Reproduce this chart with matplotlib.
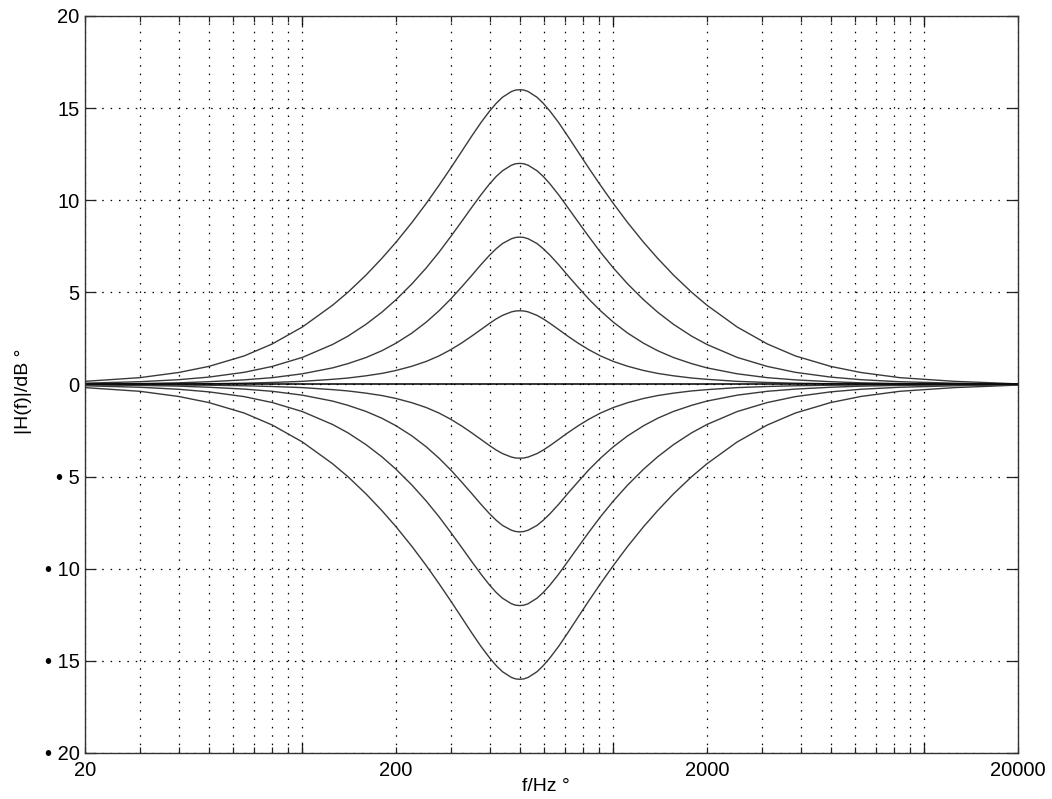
import numpy as np
import matplotlib
matplotlib.use("Agg")
import matplotlib.pyplot as plt
from matplotlib.ticker import FixedLocator, NullFormatter

plt.rcParams['font.family'] = ['Liberation Sans', 'DejaVu Sans']

# frequency points (Hz) read along the x axis
freq = [20, 30, 40, 50, 65, 80, 100, 125, 140, 160, 180, 200, 225, 250, 275, 300, 325,
        350, 375, 400, 420, 440, 470, 485, 500,
        515, 532, 568, 595, 625, 667, 714, 769, 833, 909, 1000, 1111, 1250, 1389,
        1562, 1786, 2000, 2500, 3125, 3846, 5000, 6250, 8333, 12500, 16000, 20000]

# boost curves (dB)
boost16 = [0.17, 0.37, 0.65, 0.98, 1.55, 2.20, 3.12, 4.30, 5.00, 5.93, 6.84, 7.72, 8.79,
           9.82, 10.81, 11.75, 12.64, 13.47, 14.21, 14.84, 15.26, 15.59, 15.90, 15.98, 16.00,
           15.98, 15.90, 15.59, 15.26, 14.84, 14.21, 13.47, 12.64, 11.75, 10.81, 9.82, 8.79,
           7.72, 6.84, 5.93, 5.00, 4.30, 3.12, 2.20, 1.55, 0.98, 0.65, 0.37, 0.17, 0.10, 0.03]
boost12 = [0.07, 0.15, 0.26, 0.40, 0.66, 0.98, 1.47, 2.17, 2.62, 3.26, 3.92, 4.60, 5.46,
           6.32, 7.18, 8.03, 8.84, 9.60, 10.29, 10.89, 11.29, 11.60, 11.90, 11.98, 12.00,
           11.98, 11.90, 11.60, 11.29, 10.89, 10.29, 9.60, 8.84, 8.03, 7.18, 6.32, 5.46,
           4.60, 3.92, 3.26, 2.62, 2.17, 1.47, 0.98, 0.66, 0.40, 0.26, 0.15, 0.07, 0.04, 0.01]
boost8 = [0.02, 0.05, 0.09, 0.15, 0.25, 0.37, 0.58, 0.90, 1.13, 1.46, 1.83, 2.24, 2.79,
          3.38, 4.00, 4.64, 5.29, 5.91, 6.50, 7.02, 7.37, 7.65, 7.91, 7.98, 8.00,
          7.98, 7.91, 7.65, 7.37, 7.02, 6.50, 5.91, 5.29, 4.64, 4.00, 3.38, 2.79,
          2.24, 1.83, 1.46, 1.13, 0.90, 0.58, 0.37, 0.25, 0.15, 0.09, 0.05, 0.02, 0.01, 0.00]
boost4 = [0.01, 0.02, 0.03, 0.04, 0.07, 0.11, 0.17, 0.28, 0.35, 0.47, 0.60, 0.76, 0.99,
          1.25, 1.55, 1.89, 2.25, 2.62, 2.98, 3.32, 3.56, 3.75, 3.94, 3.99, 4.00,
          3.99, 3.94, 3.75, 3.56, 3.32, 2.98, 2.62, 2.25, 1.89, 1.55, 1.25, 0.99,
          0.76, 0.60, 0.47, 0.35, 0.28, 0.17, 0.11, 0.07, 0.04, 0.03, 0.02, 0.01, 0.00, 0.00]

# cut curves (dB), mirror images of the boosts
cut4 = [-0.01, -0.02, -0.03, -0.04, -0.07, -0.11, -0.17, -0.28, -0.35, -0.47, -0.60, -0.76, -0.99,
        -1.25, -1.55, -1.89, -2.25, -2.62, -2.98, -3.32, -3.56, -3.75, -3.94, -3.99, -4.00,
        -3.99, -3.94, -3.75, -3.56, -3.32, -2.98, -2.62, -2.25, -1.89, -1.55, -1.25, -0.99,
        -0.76, -0.60, -0.47, -0.35, -0.28, -0.17, -0.11, -0.07, -0.04, -0.03, -0.02, -0.01, 0.00, 0.00]
cut8 = [-0.02, -0.05, -0.09, -0.15, -0.25, -0.37, -0.58, -0.90, -1.13, -1.46, -1.83, -2.24, -2.79,
        -3.38, -4.00, -4.64, -5.29, -5.91, -6.50, -7.02, -7.37, -7.65, -7.91, -7.98, -8.00,
        -7.98, -7.91, -7.65, -7.37, -7.02, -6.50, -5.91, -5.29, -4.64, -4.00, -3.38, -2.79,
        -2.24, -1.83, -1.46, -1.13, -0.90, -0.58, -0.37, -0.25, -0.15, -0.09, -0.05, -0.02, -0.01, 0.00]
cut12 = [-0.07, -0.15, -0.26, -0.40, -0.66, -0.98, -1.47, -2.17, -2.62, -3.26, -3.92, -4.60, -5.46,
         -6.32, -7.18, -8.03, -8.84, -9.60, -10.29, -10.89, -11.29, -11.60, -11.90, -11.98, -12.00,
         -11.98, -11.90, -11.60, -11.29, -10.89, -10.29, -9.60, -8.84, -8.03, -7.18, -6.32, -5.46,
         -4.60, -3.92, -3.26, -2.62, -2.17, -1.47, -0.98, -0.66, -0.40, -0.26, -0.15, -0.07, -0.04, -0.01]
cut16 = [-0.17, -0.37, -0.65, -0.98, -1.55, -2.20, -3.12, -4.30, -5.00, -5.93, -6.84, -7.72, -8.79,
         -9.82, -10.81, -11.75, -12.64, -13.47, -14.21, -14.84, -15.26, -15.59, -15.90, -15.98, -16.00,
         -15.98, -15.90, -15.59, -15.26, -14.84, -14.21, -13.47, -12.64, -11.75, -10.81, -9.82, -8.79,
         -7.72, -6.84, -5.93, -5.00, -4.30, -3.12, -2.20, -1.55, -0.98, -0.65, -0.37, -0.17, -0.10, -0.03]
flat = [0.0] * len(freq)

x_ticks = [20, 200, 2000, 20000]
x_ticklabels = ['20', '200', '2000', '20000']
x_minor = [30, 40, 50, 60, 70, 80, 90, 100, 300, 400, 500, 600, 700, 800, 900, 1000,
           3000, 4000, 5000, 6000, 7000, 8000, 9000, 10000]
x_decades = [100, 1000, 10000]
y_ticks = [-20, -15, -10, -5, 0, 5, 10, 15, 20]
y_ticklabels = ['\u2022 20', '\u2022 15', '\u2022 10', '\u2022 5', '0', '5', '10', '15', '20']

fig = plt.figure(figsize=(10.52, 7.99), dpi=100)
ax = fig.add_axes([0.0808, 0.0576, 0.8869, 0.9224])

for curve in [boost16, boost12, boost8, boost4, cut4, cut8, cut12, cut16]:
    ax.plot(freq, curve, color='#3a3a3a', lw=1.0)
ax.plot(freq, flat, color='black', lw=1.1)

ax.set_xscale('log')
ax.set_xlim(20, 20000)
ax.set_ylim(-20, 20)

ax.xaxis.set_major_locator(FixedLocator(x_ticks))
ax.set_xticklabels(x_ticklabels)
ax.xaxis.set_minor_locator(FixedLocator(x_minor))
ax.xaxis.set_minor_formatter(NullFormatter())
ax.set_yticks(y_ticks)
ax.set_yticklabels(y_ticklabels)

grid_style = dict(color='black', linestyle=(0, (1.2, 5.5)), linewidth=0.9)
ax.grid(True, which='major', **grid_style)
ax.grid(True, which='minor', axis='x', **grid_style)

ax.tick_params(axis='both', which='both', direction='in', top=True, right=True,
               labelsize=14.5, width=0.9, colors='#222222', labelcolor='black')
ax.tick_params(axis='x', which='major', length=4, pad=6)
ax.tick_params(axis='x', which='minor', length=4)
ax.tick_params(axis='y', which='major', length=8, pad=4)

# longer ticks at the decades, as in the original
for side in ['bottom', 'top']:
    sec = ax.secondary_xaxis(side)
    sec.set_xticks(x_decades)
    sec.set_xticklabels([])
    sec.tick_params(direction='in', length=8, width=0.9, colors='#222222')
    sec.xaxis.set_minor_locator(FixedLocator([]))
    sec.spines[side].set_visible(False)

for s in ax.spines.values():
    s.set_linewidth(1.0)
    s.set_color('#333333')

ax.set_xlabel('f/Hz \u00b0', fontsize=14)
ax.xaxis.set_label_coords(0.494, -0.034)
ax.set_ylabel('|H(f)|/dB \u00b0', fontsize=14)
ax.yaxis.set_label_coords(-0.057, 0.491)

fig.savefig('out.png', dpi=100)
